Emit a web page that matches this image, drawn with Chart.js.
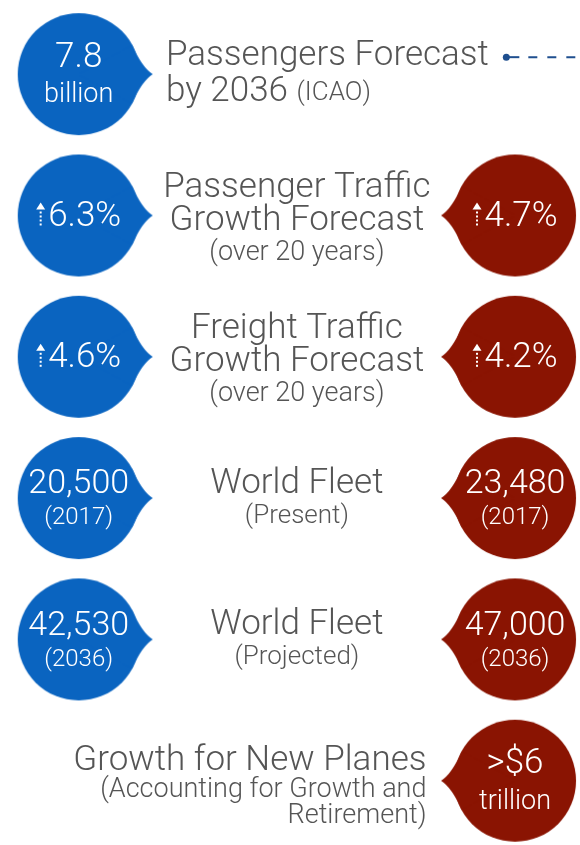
<!DOCTYPE html>
<html lang="en">
<head>
  <meta charset="UTF-8">
  <title>Aviation Forecast</title>
  <script src="https://cdn.jsdelivr.net/npm/chart.js"></script>
  <style>
    body { margin: 0; background: #fff; }
    #wrap { position: relative; width: 580px; height: 845px; }
  </style>
</head>
<body>
  <div id="wrap"><canvas id="infoChart"></canvas></div>

  <script>
    // rows, top to bottom
    const rowTitles = [
      ["Passengers Forecast", "by 2036"],
      ["Passenger Traffic", "Growth Forecast"],
      ["Freight Traffic", "Growth Forecast"],
      ["World Fleet"],
      ["World Fleet"],
      ["Growth for New Planes"]
    ];
    const rowNotes = [
      ["(ICAO)"],
      ["(over 20 years)"],
      ["(over 20 years)"],
      ["(Present)"],
      ["(Projected)"],
      ["(Accounting for Growth and", "Retirement)"]
    ];

    // blue bubbles (left) and red bubbles (right), null = no bubble
    const blueValues = ["7.8", "6.3%", "4.6%", "20,500", "42,530", null];
    const blueSubs = ["billion", "", "", "(2017)", "(2036)", null];
    const redValues = [null, "4.7%", "4.2%", "23,480", "47,000", ">$6"];
    const redSubs = [null, "", "", "(2017)", "(2036)", "trillion"];
    // rows whose value is a growth rate get the dotted up arrow
    const growthRows = [1, 2];

    const BLUE = "#0a64c0";
    const RED = "#8a1402";
    const GREY = "#555555";
    const FONT = "Roboto, 'Liberation Sans', sans-serif";

    // bubble with a small pointed tail, dir = 1 points right, -1 points left
    function makeBubble(color, dir) {
      const r = 61, tail = 13;
      const size = 2 * (r + tail + 2);
      const c = size / 2;
      const cv = document.createElement("canvas");
      cv.width = size; cv.height = size;
      const g = cv.getContext("2d");
      g.fillStyle = color;
      g.beginPath();
      g.arc(c, c, r, 0, Math.PI * 2);
      g.fill();
      const a = 0.5;
      g.beginPath();
      g.moveTo(c + dir * r * Math.cos(a), c - r * Math.sin(a));
      g.quadraticCurveTo(c + dir * (r + 2), c - 7, c + dir * (r + tail), c);
      g.quadraticCurveTo(c + dir * (r + 2), c + 7, c + dir * r * Math.cos(a), c + r * Math.sin(a));
      g.lineTo(c, c);
      g.closePath();
      g.fill();
      return cv;
    }

    const bluePoints = [];
    blueValues.forEach((v, i) => { if (v !== null) bluePoints.push({ x: 0, y: i }); });
    const redPoints = [];
    redValues.forEach((v, i) => { if (v !== null) redPoints.push({ x: 1, y: i }); });

    function setFont(ctx, size) {
      ctx.font = "300 " + size + "px " + FONT;
    }

    // draw text roughly centred on y by its capitals
    function capText(ctx, text, x, y, size) {
      setFont(ctx, size);
      ctx.fillText(text, x, y + 0.3 * size);
    }

    function upArrow(ctx, x, y) {
      ctx.beginPath();
      ctx.moveTo(x, y - 13);
      ctx.lineTo(x + 4.5, y - 6);
      ctx.lineTo(x - 4.5, y - 6);
      ctx.closePath();
      ctx.fill();
      for (let yy = y - 4; yy < y + 11; yy += 4) {
        ctx.fillRect(x - 1, yy, 2, 2);
      }
    }

    const textPlugin = {
      id: "infoText",
      afterDatasetsDraw(chart) {
        const ctx = chart.ctx;
        const xs = chart.scales.x, ys = chart.scales.y;
        ctx.save();
        ctx.textBaseline = "alphabetic";

        // bubble labels
        [[blueValues, blueSubs, 0], [redValues, redSubs, 1]].forEach(([vals, subs, xv]) => {
          vals.forEach((v, i) => {
            if (v === null) return;
            const px = xs.getPixelForValue(xv), py = ys.getPixelForValue(i);
            ctx.fillStyle = "#fff";
            ctx.textAlign = "center";
            if (growthRows.includes(i)) {
              setFont(ctx, 35);
              const tw = ctx.measureText(v).width;
              const total = 9 + 3 + tw;
              const left = px - total / 2;
              upArrow(ctx, left + 4.5, py);
              ctx.textAlign = "left";
              capText(ctx, v, left + 12, py, 35);
            } else if (i === 0 || i === 5) {
              capText(ctx, v, px, py - 18, 35);
              capText(ctx, subs[i], px, py + 20, 27);
            } else {
              capText(ctx, v, px, py - 15, 34);
              capText(ctx, subs[i], px, py + 19, 24);
            }
          });
        });

        // row titles
        ctx.fillStyle = GREY;
        rowTitles.forEach((lines, i) => {
          const py = ys.getPixelForValue(i);
          const notes = rowNotes[i];
          if (i === 0) {
            ctx.textAlign = "left";
            const lx = xs.getPixelForValue(0.2);
            capText(ctx, lines[0], lx, py - 20, 35);
            capText(ctx, lines[1], lx, py + 16, 35);
            const w = ctx.measureText(lines[1] + " ").width;
            capText(ctx, notes[0], lx + w, py + 18, 26);
          } else if (i === 5) {
            ctx.textAlign = "right";
            const rx = xs.getPixelForValue(0.797);
            capText(ctx, lines[0], rx, py - 21, 35);
            capText(ctx, notes[0], rx, py + 8, 27);
            capText(ctx, notes[1], rx, py + 34, 27);
          } else {
            ctx.textAlign = "center";
            const cx = xs.getPixelForValue(0.5);
            if (lines.length === 2) {
              capText(ctx, lines[0], cx, py - 29, 35);
              capText(ctx, lines[1], cx, py + 4, 35);
              capText(ctx, notes[0], cx, py + 36, 27);
            } else {
              capText(ctx, lines[0], cx, py - 16, 35);
              capText(ctx, notes[0], cx, py + 17, 26);
            }
          }
        });

        // dashed connector on the first row
        const ly = ys.getPixelForValue(0) - 17;
        const lx0 = xs.getPixelForValue(0.98);
        ctx.strokeStyle = "#1f4f8f";
        ctx.fillStyle = "#1f4f8f";
        ctx.lineWidth = 2;
        ctx.beginPath();
        ctx.moveTo(lx0, ly);
        ctx.lineTo(lx0 + 13, ly);
        ctx.stroke();
        ctx.setLineDash([9, 10]);
        ctx.beginPath();
        ctx.moveTo(lx0 + 22, ly);
        ctx.lineTo(chart.width, ly);
        ctx.stroke();
        ctx.setLineDash([]);
        ctx.beginPath();
        ctx.arc(lx0, ly, 3.5, 0, Math.PI * 2);
        ctx.fill();
        ctx.restore();
      }
    };

    new Chart(document.getElementById("infoChart"), {
      type: "scatter",
      data: {
        datasets: [
          { label: "Blue", data: bluePoints, pointStyle: makeBubble(BLUE, 1), clip: false },
          { label: "Red", data: redPoints, pointStyle: makeBubble(RED, -1), clip: false }
        ]
      },
      options: {
        responsive: true,
        maintainAspectRatio: false,
        animation: false,
        events: [],
        layout: { padding: 0 },
        plugins: { legend: { display: false }, tooltip: { enabled: false } },
        scales: {
          x: { type: "linear", display: false, min: -0.1689, max: 1.1374 },
          y: { type: "linear", display: false, reverse: true, min: -0.4895, max: 5.4196 }
        }
      },
      plugins: [textPlugin]
    });
  </script>
</body>
</html>
